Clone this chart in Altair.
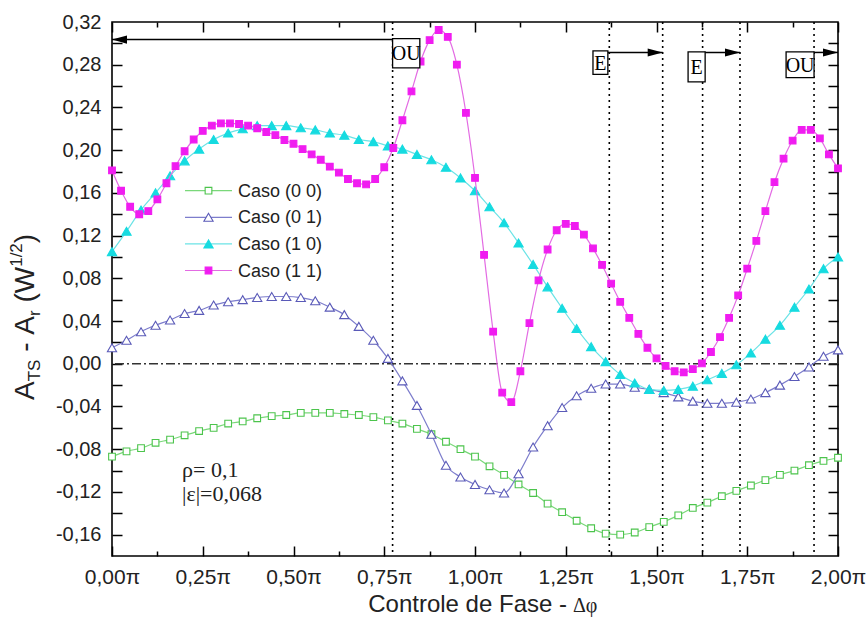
import altair as alt
import numpy as np
import pandas as pd

# Phase grids in units of pi
phase_coarse = np.round(np.linspace(0.0, 2.0, 51), 3)
phase_fine = np.round(np.linspace(0.0, 2.0, 81), 4)

caso_00 = [-0.087, -0.082, -0.079, -0.074, -0.071, -0.067, -0.063, -0.060, -0.056, -0.054,
           -0.051, -0.049, -0.048, -0.046, -0.046, -0.046, -0.047, -0.048, -0.050, -0.053,
           -0.056, -0.061, -0.066, -0.073, -0.080, -0.087, -0.096, -0.104, -0.113, -0.121,
           -0.131, -0.139, -0.147, -0.154, -0.159, -0.160, -0.158, -0.153, -0.148, -0.142,
           -0.135, -0.130, -0.124, -0.119, -0.114, -0.109, -0.104, -0.100, -0.095, -0.091,
           -0.088]
caso_01 = [0.015, 0.022, 0.030, 0.036, 0.041, 0.047, 0.050, 0.055, 0.058, 0.060,
           0.062, 0.063, 0.063, 0.062, 0.059, 0.053, 0.046, 0.035, 0.022, 0.005,
           -0.016, -0.039, -0.066, -0.095, -0.106, -0.113, -0.118, -0.121, -0.103, -0.078,
           -0.058, -0.041, -0.030, -0.023, -0.019, -0.019, -0.022, -0.024, -0.027, -0.031,
           -0.035, -0.037, -0.037, -0.036, -0.033, -0.027, -0.020, -0.012, -0.003, 0.007,
           0.013]
caso_10 = [0.105, 0.124, 0.144, 0.160, 0.176, 0.190, 0.201, 0.210, 0.216, 0.220,
           0.223, 0.223, 0.223, 0.221, 0.219, 0.216, 0.214, 0.210, 0.208, 0.204,
           0.201, 0.196, 0.191, 0.184, 0.174, 0.162, 0.147, 0.132, 0.113, 0.093,
           0.072, 0.052, 0.033, 0.016, 0.002, -0.010, -0.018, -0.024, -0.025, -0.024,
           -0.021, -0.015, -0.009, -0.001, 0.010, 0.023, 0.036, 0.053, 0.070, 0.089,
           0.100]
caso_11 = [0.181, 0.162, 0.147, 0.140, 0.143, 0.154, 0.169, 0.185, 0.199, 0.210,
           0.218, 0.223, 0.225, 0.225, 0.2245, 0.223, 0.2205, 0.217, 0.214, 0.2095,
           0.206, 0.201, 0.196, 0.191, 0.1845, 0.179, 0.173, 0.169, 0.168, 0.173,
           0.184, 0.202, 0.228, 0.255, 0.283, 0.303, 0.3125, 0.306, 0.280, 0.235,
           0.174, 0.102, 0.030, -0.027, -0.036, -0.007, 0.038, 0.078, 0.107, 0.125,
           0.131, 0.129, 0.121, 0.108, 0.0925, 0.075, 0.058, 0.043, 0.028, 0.015,
           0.005, -0.002, -0.007, -0.008, -0.005, 0.0004, 0.011, 0.025, 0.043, 0.064,
           0.089, 0.115, 0.143, 0.170, 0.192, 0.209, 0.219, 0.219, 0.211, 0.196,
           0.183]

series_names = ["Caso (0 0)", "Caso (0 1)", "Caso (1 0)", "Caso (1 1)"]
series_values = [caso_00, caso_01, caso_10, caso_11]
series_phase = [phase_coarse, phase_coarse, phase_coarse, phase_fine]

# Zero-crossing guides (units of pi)
guide_phase = [0.773, 1.370, 1.517, 1.627, 1.730, 1.934]

# Labelled regions with their arrows
region_labels = ["OU", "E", "E", "OU"]
region_x0 = [0.773, 1.325, 1.587, 1.857]
region_x1 = [0.848, 1.366, 1.634, 1.934]
region_top = [0.3045, 0.293, 0.292, 0.292]
region_bottom = [0.277, 0.271, 0.264, 0.268]
arrow_start = [0.848, 1.366, 1.631, 1.931]
arrow_end = [0.0, 1.517, 1.730, 2.0]
arrow_level = [0.3035, 0.2915, 0.2915, 0.2915]

param_text = ["\u03c1= 0,1", "|\u03b5|=0,068"]
param_x = [0.193, 0.193]
param_y = [-0.106, -0.1285]

x_major = [0.0, 0.25, 0.5, 0.75, 1.0, 1.25, 1.5, 1.75, 2.0]
x_minor = [0.125, 0.375, 0.625, 0.875, 1.125, 1.375, 1.625, 1.875]
y_labels = [round(-0.16 + 0.04 * i, 2) for i in range(13)]
y_ticks = [round(-0.16 + 0.02 * i, 2) for i in range(24)]

W, H = 726, 534
SANS = "Liberation Sans, Arial, sans-serif"
SERIF = "Liberation Serif, Times New Roman, serif"

xs = alt.Scale(domain=[0, 2], nice=False, zero=False)
ys = alt.Scale(domain=[-0.18, 0.32], nice=False, zero=False)

styles = {
    "Caso (0 0)": dict(line="#7ad87a", stroke="#4cc44c", fill="white", shape="square", size=45),
    "Caso (0 1)": dict(line="#7d7dcc", stroke="#5a5ab8", fill="white", shape="triangle-up", size=85),
    "Caso (1 0)": dict(line="#6be3e6", stroke="#16dbe0", fill="#16dbe0", shape="triangle-up", size=85),
    "Caso (1 1)": dict(line="#e36be3", stroke="#f01cf0", fill="#f01cf0", shape="square", size=45),
}


def one_row():
    return pd.DataFrame({"k": [0]})


layers = []

# dash-dot zero line
layers.append(
    alt.Chart(pd.DataFrame({"v": [0.0]}))
    .mark_rule(color="#333333", strokeWidth=1.3, strokeDash=[9, 3, 2, 3])
    .encode(y=alt.Y("v:Q", scale=ys, axis=None))
)

# dotted vertical guides
layers.append(
    alt.Chart(pd.DataFrame({"g": guide_phase}))
    .mark_rule(color="black", strokeWidth=1.6, strokeDash=[2, 4])
    .encode(x=alt.X("g:Q", scale=xs, axis=None))
)

# data series
for name, vals, ph in zip(series_names, series_values, series_phase):
    st = styles[name]
    df = pd.DataFrame({"phase": ph, "value": vals})
    base = alt.Chart(df).encode(
        x=alt.X("phase:Q", scale=xs, axis=None),
        y=alt.Y("value:Q", scale=ys, axis=None),
    )
    layers.append(base.mark_line(color=st["line"], strokeWidth=1.2, interpolate="monotone"))
    layers.append(
        base.mark_point(shape=st["shape"], size=st["size"], filled=True, fill=st["fill"],
                        stroke=st["stroke"], strokeWidth=1.1, opacity=1)
    )

# region boxes, labels and arrows
regions = pd.DataFrame({
    "label": region_labels, "x0": region_x0, "x1": region_x1,
    "top": region_top, "bottom": region_bottom,
    "a0": arrow_start, "a1": arrow_end, "ay": arrow_level,
})
regions["cx"] = (regions["x0"] + regions["x1"]) / 2
regions["cy"] = (regions["top"] + regions["bottom"]) / 2

layers.append(
    alt.Chart(regions).mark_rule(color="black", strokeWidth=1.5).encode(
        x=alt.X("a0:Q", scale=xs, axis=None), x2="a1:Q",
        y=alt.Y("ay:Q", scale=ys, axis=None))
)
right_head = "M0,0L-1,-0.27L-1,0.27Z"
left_head = "M0,0L1,-0.27L1,0.27Z"
for head, cond in [(right_head, regions["a1"] > regions["a0"]), (left_head, regions["a1"] < regions["a0"])]:
    layers.append(
        alt.Chart(regions[cond]).mark_point(shape=head, size=900, filled=True, color="black", opacity=1).encode(
            x=alt.X("a1:Q", scale=xs, axis=None), y=alt.Y("ay:Q", scale=ys, axis=None))
    )
layers.append(
    alt.Chart(regions).mark_rect(fill="white", stroke="black", strokeWidth=1.3).encode(
        x=alt.X("x0:Q", scale=xs, axis=None), x2="x1:Q",
        y=alt.Y("top:Q", scale=ys, axis=None), y2="bottom:Q")
)
layers.append(
    alt.Chart(regions).mark_text(font=SERIF, fontSize=20, color="black", baseline="middle", dy=1).encode(
        x=alt.X("cx:Q", scale=xs, axis=None), y=alt.Y("cy:Q", scale=ys, axis=None), text="label:N")
)

# parameter annotations
layers.append(
    alt.Chart(pd.DataFrame({"t": param_text, "x": param_x, "y": param_y}))
    .mark_text(font=SERIF, fontSize=22, color="#222222", align="left", baseline="alphabetic")
    .encode(x=alt.X("x:Q", scale=xs, axis=None), y=alt.Y("y:Q", scale=ys, axis=None), text="t:N")
)

# legend
for i, name in enumerate(series_names):
    st = styles[name]
    ly = 168.7 + 26.6 * i
    layers.append(alt.Chart(one_row()).mark_rule(color=st["line"], strokeWidth=1.2).encode(
        x=alt.value(73), x2=alt.value(120), y=alt.value(ly)))
    layers.append(alt.Chart(one_row()).mark_point(
        shape=st["shape"], size=st["size"], filled=True, fill=st["fill"], stroke=st["stroke"],
        strokeWidth=1.1, opacity=1).encode(x=alt.value(96.5), y=alt.value(ly)))
    layers.append(alt.Chart(pd.DataFrame({"t": [name]})).mark_text(
        font=SANS, fontSize=18, color="#222222", align="left", baseline="middle").encode(
        x=alt.value(126), y=alt.value(ly + 1), text="t:N"))

# x axis title
layers.append(alt.Chart(pd.DataFrame({"t": ["Controle de Fase -"]})).mark_text(
    font=SANS, fontSize=24, color="#222222", align="right", baseline="alphabetic").encode(
    x=alt.value(455), y=alt.value(590), text="t:N"))
layers.append(alt.Chart(pd.DataFrame({"t": ["\u0394\u03c6"]})).mark_text(
    font=SERIF, fontSize=20, color="#222222", align="left", baseline="alphabetic").encode(
    x=alt.value(461), y=alt.value(590), text="t:N"))

# y axis title, laid out run by run (rotated, reading upwards)
adv = {"A": 0.667, "T": 0.611, "S": 0.667, " ": 0.278, "-": 0.333, "r": 0.333,
       "(": 0.333, ")": 0.333, "W": 0.944, "1": 0.556, "/": 0.278, "2": 0.556}
runs = [("A", 28, 0), ("TS", 17, 6), (" ", 28, 0), ("-", 28, 0), (" ", 28, 0), ("A", 28, 0),
        ("r", 17, 6), (" ", 28, 0), ("(", 28, 0), ("W", 28, 0), ("1/2", 17, -12), (")", 28, 0)]
title_base_x = -78
pos = 378.0
for txt, size, shift in runs:
    width = sum(adv[c] for c in txt) * size
    if txt.strip():
        layers.append(alt.Chart(pd.DataFrame({"t": [txt]})).mark_text(
            font=SANS, fontSize=size, color="#222222", angle=270, align="left",
            baseline="alphabetic").encode(
            x=alt.value(title_base_x + shift), y=alt.value(pos), text="t:N"))
    pos -= width

# axes: labels plus inward ticks on all four sides
num_fmt = "replace(replace(format(datum.value, '.2f'), '.', ','), '\u2212', '-')"


def axis_holder(xaxis, yaxis):
    return alt.Chart(pd.DataFrame({"px": [0.0], "pv": [0.0]})).mark_point(opacity=0).encode(
        x=alt.X("px:Q", scale=xs, axis=xaxis), y=alt.Y("pv:Q", scale=ys, axis=yaxis))


common = dict(grid=False, title=None, domain=False)
tick_style = dict(labels=False, ticks=True, tickColor="black", tickWidth=1.5, **common)

layers.append(axis_holder(
    alt.Axis(orient="bottom", values=x_major, labelExpr=num_fmt + " + '\u03c0'", ticks=False,
             labelFont=SANS, labelFontSize=21, labelColor="#222222", labelPadding=10,
             labelFlush=False, labelOverlap=False, **common),
    alt.Axis(orient="left", values=y_labels, labelExpr=num_fmt, ticks=False,
             labelFont=SANS, labelFontSize=20, labelColor="#222222", labelPadding=11,
             labelFlush=False, labelOverlap=False, **common),
))
layers.append(axis_holder(
    alt.Axis(orient="bottom", values=x_major, tickSize=10, offset=-10, **tick_style),
    alt.Axis(orient="left", values=y_ticks, tickSize=10, offset=-10, **tick_style),
))
layers.append(axis_holder(
    alt.Axis(orient="bottom", values=x_minor, tickSize=5, offset=-5, **tick_style),
    alt.Axis(orient="right", values=y_ticks, tickSize=10, offset=-10, **tick_style),
))
layers.append(axis_holder(
    alt.Axis(orient="top", values=x_major, tickSize=10, offset=-10, **tick_style), None))
layers.append(axis_holder(
    alt.Axis(orient="top", values=x_minor, tickSize=5, offset=-5, **tick_style), None))

chart = (
    alt.layer(*layers)
    .resolve_axis(x="independent", y="independent")
    .properties(width=W, height=H, padding={"left": 112, "top": 22, "right": 29, "bottom": 66},
                autosize=alt.AutoSizeParams(type="none"), background="white")
    .configure_view(stroke="black", strokeWidth=1.6)
)

chart.save("out.html", embed_options={"renderer": "svg", "actions": False})
